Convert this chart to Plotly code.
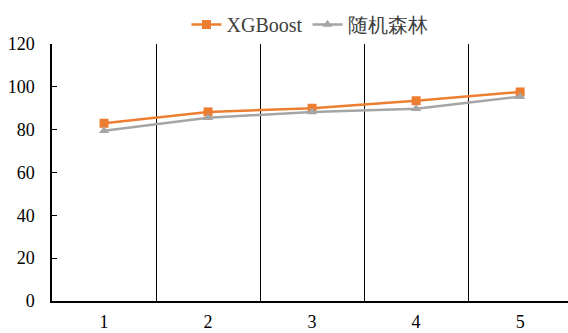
import plotly.graph_objects as go

categories = [1, 2, 3, 4, 5]
xgboost = [83.0, 88.3, 90.0, 93.5, 97.6]
random_forest = [79.5, 85.6, 88.2, 89.8, 95.4]
y_ticks = [0, 20, 40, 60, 80, 100, 120]
boundaries = [1.5, 2.5, 3.5, 4.5]

font_family = "Liberation Serif, Times New Roman, serif"

fig = go.Figure()
fig.add_trace(go.Scatter(
    x=categories, y=xgboost, name="XGBoost", mode="lines+markers",
    line=dict(color="#ED7D31", width=2.5),
    marker=dict(symbol="square", size=9, color="#ED7D31"),
))
fig.add_trace(go.Scatter(
    x=categories, y=random_forest, name="随机森林", mode="lines+markers",
    line=dict(color="#A5A5A5", width=2.5),
    marker=dict(symbol="triangle-up", size=9, color="#A5A5A5"),
))

fig.update_layout(
    width=568, height=333,
    margin=dict(l=52, r=0, t=44, b=32, autoexpand=False),
    plot_bgcolor="white", paper_bgcolor="white",
    font=dict(family=font_family, size=18, color="#000000"),
    showlegend=True,
    legend=dict(orientation="h", x=0.5, xanchor="center", y=1.0, yanchor="bottom",
                itemwidth=30,
                font=dict(family=font_family, size=20, color="#404040"), bgcolor="rgba(0,0,0,0)"),
    xaxis=dict(
        range=[0.5, 5.46], tickvals=categories, ticktext=[str(c) for c in categories],
        showgrid=False, zeroline=False, showline=True, linecolor="black", linewidth=1.5,
        ticks="", ticklabelstandoff=4, automargin=False,
        tickfont=dict(family=font_family, size=18),
        minor=dict(tickvals=boundaries, showgrid=True, gridcolor="black", gridwidth=1, ticks=""),
        fixedrange=True,
    ),
    yaxis=dict(
        range=[0, 120], tickvals=y_ticks, showgrid=False, zeroline=False,
        showline=True, linecolor="black", linewidth=1.5, automargin=False,
        ticks="inside", ticklen=5, tickcolor="black", ticklabelstandoff=12,
        tickfont=dict(family=font_family, size=18),
        fixedrange=True,
    ),
)

fig.write_html("out.html")
